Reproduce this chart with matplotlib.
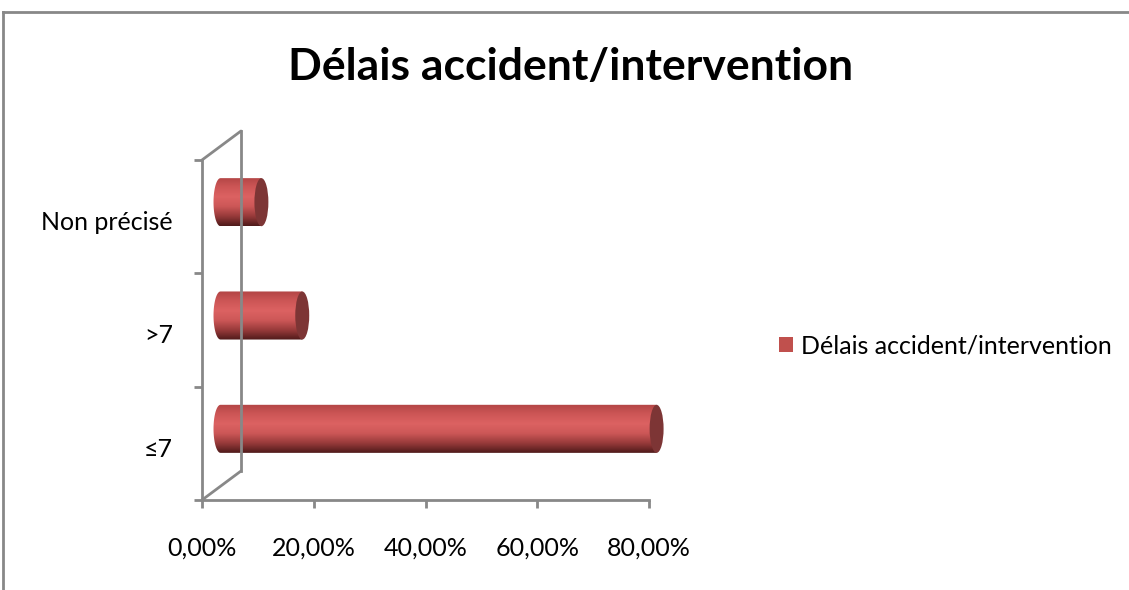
#3D style cylinder bar chart of delay accident/intervention
import matplotlib
matplotlib.use('Agg')
import matplotlib.pyplot as plt
import numpy as np
from matplotlib import transforms
from matplotlib.patches import Ellipse, PathPatch, Patch
from matplotlib.path import Path
from matplotlib.colors import LinearSegmentedColormap
from matplotlib.lines import Line2D

categories = ['\u22647', '>7', 'Non pr\u00e9cis\u00e9']
values = [78.05, 14.63, 7.32]
xticks = [0, 20, 40, 60, 80]
title = 'D\u00e9lais accident/intervention'
series_name = 'D\u00e9lais accident/intervention'

plt.rcParams['font.family'] = ['Lato', 'DejaVu Sans']
grey = '#888888'
fs = 18

fig = plt.figure(figsize=(11.29, 5.90), dpi=100)
W, H = 1129, 590
ax = fig.add_axes([202 / W, (H - 500) / H, 447 / W, 340 / H])
ax.set_xlim(0, 80)
ax.set_ylim(0, 3)
ax.patch.set_visible(False)
for s in ['top', 'right']:
    ax.spines[s].set_visible(False)
for s in ['left', 'bottom']:
    ax.spines[s].set_color(grey)
    ax.spines[s].set_linewidth(2)

ax.set_xticks(xticks)
ax.set_xticklabels([('%.2f%%' % t).replace('.', ',') for t in xticks])
ax.set_yticks([0, 1, 2, 3])
ax.set_yticklabels([])
# category labels sit slightly below the band centre, like in excel
ax.set_yticks([0.465, 1.465, 2.465], minor=True)
ax.set_yticklabels(categories, minor=True)
ax.tick_params(axis='both', which='major', color=grey, width=2, length=6, labelsize=fs)
ax.tick_params(axis='x', pad=20.5)
ax.tick_params(axis='y', which='minor', length=0, pad=21, labelsize=fs)

# back wall (depth offset)
depth = transforms.offset_copy(ax.transData, fig, x=39, y=29, units='dots')
ax.plot([0, 0], [0, 3], color=grey, lw=2, transform=depth, clip_on=False)
for yv in [0, 3]:
    ax.annotate('', xy=(0, yv), xytext=(39, 29), textcoords='offset pixels',
                arrowprops=dict(arrowstyle='-', color=grey, lw=2, shrinkA=0, shrinkB=0))

# cylinders at mid depth
mid = transforms.offset_copy(ax.transData, fig, x=18.5, y=14.5, units='dots')
cmap = LinearSegmentedColormap.from_list('cyl', [
    (0.0, '#b24545'), (0.2, '#cd5656'), (0.4, '#dc6262'), (0.6, '#cc5757'),
    (0.8, '#973a3a'), (1.0, '#4f1a1a')])
grad = np.linspace(0, 1, 200).reshape(-1, 1)
h = 0.212
ew = 2.5
t = np.linspace(np.pi / 2, 3 * np.pi / 2, 40)
for i, v in enumerate(values):
    yc = i + 0.5
    xs = list(ew / 2 * np.cos(t)) + [v, v]
    ys = list(yc + h * np.sin(t)) + [yc - h, yc + h]
    verts = list(zip(xs, ys)) + [(xs[0], ys[0])]
    clip = PathPatch(Path(verts, closed=True), transform=mid, facecolor='none', edgecolor='none')
    ax.add_patch(clip)
    clip.set_clip_on(False)
    im = ax.imshow(grad, cmap=cmap, aspect='auto', extent=(-ew, v + ew, yc - h, yc + h),
                   origin='upper', interpolation='bilinear', transform=mid)
    im.set_clip_path(clip)
    im.set_clip_box(fig.bbox)
    cap = Ellipse((v, yc), ew, 2 * h, facecolor='#7d3535', edgecolor='none',
                  transform=mid, clip_on=False)
    ax.add_patch(cap)
ax.set_xlim(0, 80)
ax.set_ylim(0, 3)

fig.text(571 / W, (H - 80) / H, title, ha='center', va='baseline', fontsize=32, fontweight='bold')

fig.legend(handles=[Patch(facecolor='#c0504d', edgecolor='none')], labels=[series_name],
           loc='center left', bbox_to_anchor=(779 / W, (H - 346) / H), frameon=False,
           fontsize=fs, handlelength=0.56, handleheight=0.56, handletextpad=0.32,
           borderpad=0, borderaxespad=0)

# outer frame
fig.add_artist(Line2D([3 / W, 3 / W], [0, (H - 12) / H], color=grey, lw=2))
fig.add_artist(Line2D([3 / W, 1], [(H - 12) / H, (H - 12) / H], color=grey, lw=2))

fig.savefig('out.png', dpi=100)
